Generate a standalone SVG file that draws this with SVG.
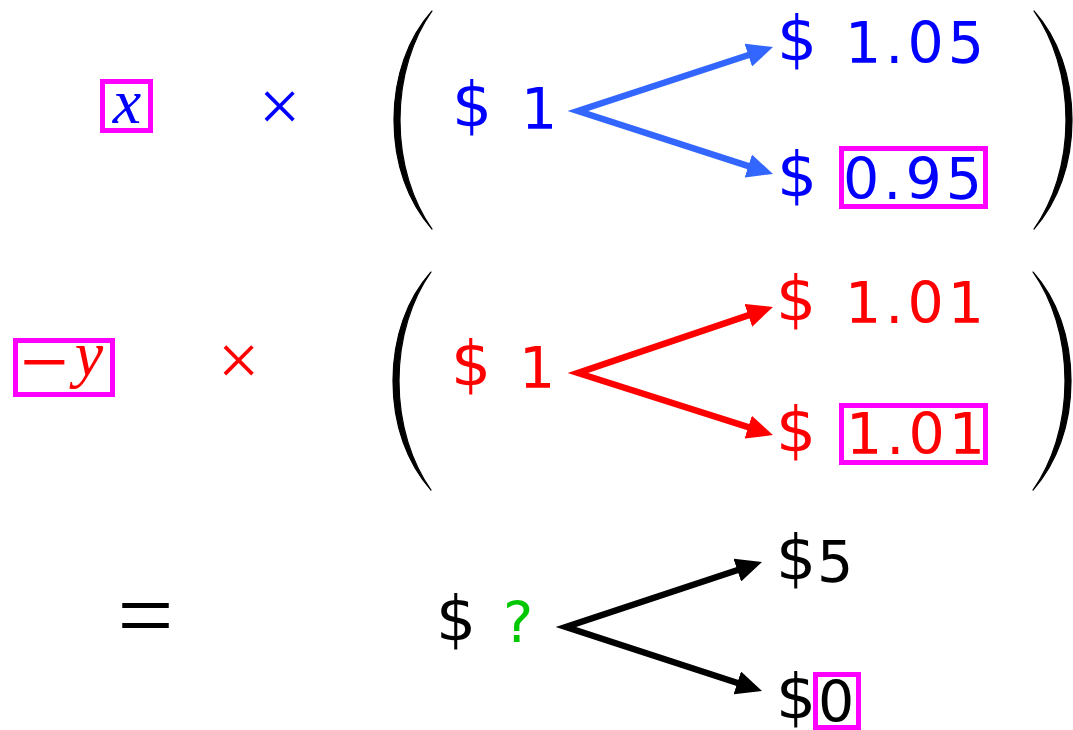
<svg xmlns="http://www.w3.org/2000/svg" width="1073" height="730" viewBox="0 0 1073 730">
<style>
.num{font-family:"DejaVu Sans",sans-serif;font-size:57px}
.d{font-size:63px}
.ls{letter-spacing:4px}
.mi{font-family:"Liberation Serif",serif;font-style:italic;font-size:64px}
.op{font-family:"Liberation Serif",serif}
.blue{fill:#0000ff}
.red{fill:#ff0000}
.blk{fill:#000000}
.grn{fill:#00c800}
.box{fill:none;stroke:#ff00ff;stroke-width:5}
.paren{fill:#000;stroke:#000;stroke-width:1.2;stroke-linejoin:round}
.arr{fill:none;stroke-width:6.5;stroke-linejoin:miter;stroke-miterlimit:6}
</style>
<defs>
<path id="lp" class="paren" d="M38,-109 C14,-82 0,-44 0,0 C0,44 14,82 38,109 C19,82 6,44 6,0 C6,-44 19,-82 38,-109 Z"/>
<marker id="mb" viewBox="0 0 26 24" refX="10" refY="12" markerWidth="26" markerHeight="24" markerUnits="userSpaceOnUse" orient="auto-start-reverse"><path d="M0,0 L26,12 L0,24 Z" fill="#3366ff"/></marker>
<marker id="mr" viewBox="0 0 26 24" refX="10" refY="12" markerWidth="26" markerHeight="24" markerUnits="userSpaceOnUse" orient="auto-start-reverse"><path d="M0,0 L26,12 L0,24 Z" fill="#ff0000"/></marker>
<marker id="mk" viewBox="0 0 26 24" refX="10" refY="12" markerWidth="26" markerHeight="24" markerUnits="userSpaceOnUse" orient="auto-start-reverse"><path d="M0,0 L26,12 L0,24 Z" fill="#000000"/></marker>
</defs>

<g id="connectors">
<path class="arr" stroke="#3366ff" marker-start="url(#mb)" marker-end="url(#mb)" d="M757.8,52 L578,111 L757.8,169.1"/>
<path class="arr" stroke="#ff0000" marker-start="url(#mr)" marker-end="url(#mr)" d="M757.8,312.1 L578,373 L757.7,430.2"/>
<path class="arr" stroke="#000000" marker-start="url(#mk)" marker-end="url(#mk)" d="M746.8,567 L566,627 L746.8,686"/>
</g>

<g id="row1">
<g id="coef-x"><rect class="box" x="102.5" y="81.5" width="48" height="49"/><text class="mi blue" x="127" y="123" text-anchor="middle">x</text></g>
<text id="times-1" class="op blue" x="279.5" y="131" font-size="74" text-anchor="middle">×</text>
<use href="#lp" transform="translate(394,120)"/>
<use href="#lp" transform="translate(1072,120) scale(-1,1)"/>
<g id="n1-root"><text class="num blue"><tspan class="d" x="452" y="126">$</tspan><tspan x="521" y="129">1</tspan></text></g>
<g id="n1-up"><text class="num blue"><tspan class="d" x="777" y="60">$</tspan><tspan class="ls" x="845" y="63">1.05</tspan></text></g>
<g id="n1-down"><text class="num blue"><tspan class="d" x="777" y="196">$</tspan><tspan class="ls" x="843" y="199">0.95</tspan></text><rect class="box" x="841.5" y="148.5" width="144" height="58"/></g>
</g>

<g id="row2">
<g id="coef-y"><rect class="box" x="15.5" y="340.5" width="97" height="54"/><text class="op red" x="44.5" y="391" font-size="86" text-anchor="middle">−</text><text class="mi red" x="89" y="375" text-anchor="middle">y</text></g>
<text id="times-2" class="op red" x="238.5" y="385" font-size="74" text-anchor="middle">×</text>
<use href="#lp" transform="translate(393,381)"/>
<use href="#lp" transform="translate(1071,381) scale(-1,1)"/>
<g id="n2-root"><text class="num red"><tspan class="d" x="451" y="385">$</tspan><tspan x="519" y="388">1</tspan></text></g>
<g id="n2-up"><text class="num red"><tspan class="d" x="776" y="320">$</tspan><tspan class="ls" x="845" y="323">1.01</tspan></text></g>
<g id="n2-down"><text class="num red"><tspan class="d" x="776" y="451">$</tspan><tspan class="ls" x="846" y="454">1.01</tspan></text><rect class="box" x="841.5" y="405.5" width="144" height="57"/></g>
</g>

<g id="row3">
<text id="equals" class="op blk" x="145.5" y="649" font-size="100" text-anchor="middle">=</text>
<g id="n3-root"><text class="num blk"><tspan class="d" x="436" y="640">$</tspan><tspan class="grn" x="503" y="643">?</tspan></text></g>
<g id="n3-up"><text class="num blk"><tspan class="d" x="776" y="579">$</tspan><tspan x="817" y="582">5</tspan></text></g>
<g id="n3-down"><text class="num blk"><tspan class="d" x="776" y="718">$</tspan><tspan x="818" y="722">0</tspan></text><rect class="box" x="815.5" y="674.5" width="43" height="53"/></g>
</g>
</svg>
